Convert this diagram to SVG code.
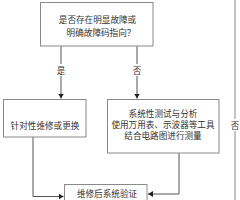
<svg xmlns="http://www.w3.org/2000/svg" width="240" height="200" viewBox="0 0 240 200">
<defs>
<style>
.box{fill:#fff;stroke:#8a8a8a;stroke-width:1}
.t{font-family:"Noto Sans CJK SC","Noto Sans",sans-serif;font-size:8.6px;fill:#333;text-anchor:middle;dominant-baseline:central}
.c{fill:none;stroke:#555;stroke-width:1}
.lbl{font-family:"Noto Sans CJK SC","Noto Sans",sans-serif;font-size:8.6px;fill:#333;text-anchor:middle;dominant-baseline:central}
</style>
<marker id="ah" markerWidth="6" markerHeight="6" refX="5" refY="3" orient="auto" markerUnits="userSpaceOnUse">
<path d="M0,0 L5,3 L0,6 Z" fill="#222"/>
</marker>
</defs>
<rect width="240" height="200" fill="#fff"/>
<g id="connectors">
<line class="c" x1="61" y1="46" x2="61" y2="98.5" marker-end="url(#ah)"/>
<rect x="55" y="64" width="12" height="12" fill="#fff"/>
<text class="lbl" x="61" y="70">是</text>
<line class="c" x1="137" y1="46" x2="137" y2="98.5" marker-end="url(#ah)"/>
<rect x="131" y="64" width="12" height="12" fill="#fff"/>
<text class="lbl" x="137" y="70">否</text>
<polyline class="c" points="33,137 33,196.5 63.5,196.5" marker-end="url(#ah)"/>
<polyline class="c" points="179,153 179,194 148,194" marker-end="url(#ah)"/>
<line x1="235" y1="0" x2="235" y2="200" stroke="#8a8a8a" stroke-width="1"/>
<rect x="229" y="119" width="12" height="12" fill="#fff"/>
<text class="lbl" x="235" y="125">否</text>
</g>
<g id="n-question">
<rect class="box" x="40.5" y="2.5" width="112.5" height="43.5"/>
<text class="t" x="97.5" y="19">是否存在明显故障或</text>
<text class="t" x="101" y="32">明确故障码指向？</text>
</g>
<g id="n-repair">
<rect class="box" x="3.5" y="99.5" width="82.5" height="37.5"/>
<text class="t" x="45" y="125">针对性维修或更换</text>
</g>
<g id="n-test">
<rect class="box" x="107.5" y="99.5" width="111.5" height="53.5"/>
<text class="t" x="163" y="113">系统性测试与分析</text>
<text class="t" x="163" y="124">使用万用表、示波器等工具</text>
<text class="t" x="163" y="135">结合电路图进行测量</text>
</g>
<g id="n-verify">
<rect class="box" x="64.5" y="184.5" width="82.5" height="30"/>
<text class="t" x="107" y="193">维修后系统验证</text>
</g>
</svg>
